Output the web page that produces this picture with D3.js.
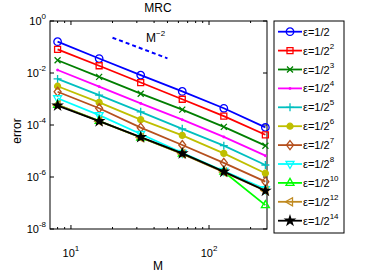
<!DOCTYPE html>
<html lang="en">
<head>
<meta charset="UTF-8">
<title>MRC</title>
<style>
body { margin: 0; background: #fff; }
svg text { font-family: "Liberation Sans", Arial, sans-serif; fill: #000; }
.axis line { stroke: #000; stroke-width: 1; }
</style>
</head>
<body>
<div id="chart"></div>
<script src="https://d3js.org/d3.v7.min.js"></script>
<script>
var width = 382, height = 273;
var box = { left: 50, right: 267, top: 21, bottom: 229 };

// data
var M = [8, 16, 32, 64, 128, 256];
var epsExp = ['', '2', '3', '4', '5', '6', '7', '8', '10', '12', '14'];
var err1  = [1.6e-1, 3.6e-2, 8.3e-3, 1.95e-3, 4.4e-4, 8.1e-5];
var err2  = [8.1e-2, 1.9e-2, 4.3e-3, 9.8e-4, 2.2e-4, 4.2e-5];
var err3  = [3.1e-2, 7.1e-3, 1.6e-3, 3.9e-4, 8.5e-5, 1.6e-5];
var err4  = [1.3e-2, 3.0e-3, 6.8e-4, 1.6e-4, 3.5e-5, 6.6e-6];
var err5  = [5.9e-3, 1.4e-3, 3.2e-4, 7.1e-5, 1.6e-5, 2.9e-6];
var err6  = [3.1e-3, 7.4e-4, 1.6e-4, 4.0e-5, 8.1e-6, 1.4e-6];
var err7  = [1.9e-3, 4.4e-4, 7.9e-5, 1.7e-5, 3.5e-6, 6.6e-7];
var err8  = [1.07e-3, 2.4e-4, 4.5e-5, 8.5e-6, 1.7e-6, 3.4e-7];
var err10 = [6.0e-4, 1.45e-4, 3.3e-5, 7.9e-6, 1.6e-6, 8.3e-8];
var err12 = [5.9e-4, 1.4e-4, 3.3e-5, 7.8e-6, 1.55e-6, 3.0e-7];
var err14 = [5.6e-4, 1.4e-4, 3.4e-5, 8.1e-6, 1.6e-6, 2.95e-7];
var refM = [20, 50];
var refErr = [0.228, 0.0367];
var yTickExp = [0, -2, -4, -6, -8];
var xTickExp = [1, 2];

var allErr = [err1, err2, err3, err4, err5, err6, err7, err8, err10, err12, err14];
var colors = ['#0000ff', '#ff0000', '#008000', '#ff00ff', '#00bfbf', '#bfbf00',
              '#b5501e', '#00ffff', '#00ff00', '#c08a20', '#000000'];
var markers = ['o', 's', 'x', '.', '+', 'dot', 'd', 'v', '^', '<', 'p'];

var svg = d3.select('#chart').append('svg').attr('width', width).attr('height', height);

var x = d3.scaleLog().domain([7.05, 263]).range([box.left, box.right]);
var y = d3.scaleLog().domain([1e-8, 1]).range([box.bottom, box.top]);

// marker shapes
function markerPath(t) {
    switch (t) {
        case 'o': return d3.symbol(d3.symbolCircle, 44)();
        case 's': return 'M-3,-3H3V3H-3Z';
        case 'x': return 'M-3,-3L3,3M-3,3L3,-3';
        case '+': return 'M-4,0H4M0,-4V4';
        case '.': return d3.symbol(d3.symbolCircle, 2)();
        case 'dot': return d3.symbol(d3.symbolCircle, 28)();
        case 'd': return 'M0,-4.5L3.5,0L0,4.5L-3.5,0Z';
        case 'v': return 'M-4,-2.5H4L0,4.5Z';
        case '^': return 'M-4,2.5H4L0,-4.5Z';
        case '<': return 'M2.5,-4V4L-4.5,0Z';
        case 'p': return d3.symbol(d3.symbolStar, 24)();
    }
}
function filled(t) { return t === 'dot' || t === 'p' || t === '.'; }

// axes box
svg.append('rect')
    .attr('x', box.left).attr('y', box.top)
    .attr('width', box.right - box.left).attr('height', box.bottom - box.top)
    .attr('fill', 'none').attr('stroke', '#000').attr('stroke-width', 1);

var ticks = svg.append('g').attr('class', 'axis');
// x ticks (major + minor)
var xMinor = [];
[1, 10, 100].forEach(function(d) {
    for (var k = 1; k < 10; k++) {
        var v = d * k;
        if (v >= x.domain()[0] && v <= x.domain()[1]) xMinor.push(v);
    }
});
xMinor.forEach(function(v) {
    var len = (v === 10 || v === 100) ? 4 : 2;
    ticks.append('line').attr('x1', x(v)).attr('x2', x(v))
        .attr('y1', box.bottom).attr('y2', box.bottom - len);
    ticks.append('line').attr('x1', x(v)).attr('x2', x(v))
        .attr('y1', box.top).attr('y2', box.top + len);
});
yTickExp.forEach(function(e) {
    var v = Math.pow(10, e);
    ticks.append('line').attr('x1', box.left).attr('x2', box.left + 4)
        .attr('y1', y(v)).attr('y2', y(v));
    ticks.append('line').attr('x1', box.right).attr('x2', box.right - 4)
        .attr('y1', y(v)).attr('y2', y(v));
});

// tick labels
yTickExp.forEach(function(e) {
    var t = svg.append('text')
        .attr('x', 46).attr('y', y(Math.pow(10, e)) + 4)
        .attr('text-anchor', 'end').attr('font-size', 11);
    t.append('tspan').text('10');
    t.append('tspan').attr('dy', -6).attr('font-size', 8).text(e);
});
xTickExp.forEach(function(e) {
    var t = svg.append('text')
        .attr('x', x(Math.pow(10, e))).attr('y', 257)
        .attr('text-anchor', 'middle').attr('font-size', 11);
    t.append('tspan').text('10');
    t.append('tspan').attr('dy', -6).attr('font-size', 8).text(e);
});

svg.append('text').attr('x', 158).attr('y', 270).attr('text-anchor', 'middle')
    .attr('font-size', 12).text('M');
svg.append('text').attr('transform', 'translate(21,131) rotate(-90)')
    .attr('text-anchor', 'middle').attr('font-size', 12).text('error');
svg.append('text').attr('x', 158).attr('y', 12).attr('text-anchor', 'middle')
    .attr('font-size', 12).text('MRC');

// reference slope
var line = d3.line().x(function(d) { return x(d[0]); }).y(function(d) { return y(d[1]); });
svg.append('path')
    .attr('d', line(d3.zip(refM, refErr)))
    .attr('fill', 'none').attr('stroke', '#0000ff').attr('stroke-width', 2)
    .attr('stroke-dasharray', '4,3');
var ref = svg.append('text').attr('x', 146).attr('y', 42).attr('font-size', 12);
ref.append('tspan').text('M');
ref.append('tspan').attr('dy', -6).attr('font-size', 8).text('\u22122');

// series
allErr.forEach(function(errs, i) {
    var g = svg.append('g');
    g.append('path')
        .attr('d', line(d3.zip(M, errs)))
        .attr('fill', 'none').attr('stroke', colors[i]).attr('stroke-width', 1.8);
    g.selectAll('path.mk')
        .data(d3.zip(M, errs))
        .enter().append('path')
        .attr('class', 'mk')
        .attr('transform', function(d) { return 'translate(' + x(d[0]) + ',' + y(d[1]) + ')'; })
        .attr('d', markerPath(markers[i]))
        .attr('fill', filled(markers[i]) ? colors[i] : 'none')
        .attr('stroke', colors[i]).attr('stroke-width', 1.3);
});

// legend
var leg = svg.append('g');
leg.append('rect').attr('x', 274).attr('y', 21).attr('width', 70).attr('height', 212)
    .attr('fill', '#fff').attr('stroke', '#000').attr('stroke-width', 1);
epsExp.forEach(function(e, i) {
    var ry = 31.7 + i * 18.9;
    leg.append('line').attr('x1', 278).attr('x2', 302).attr('y1', ry).attr('y2', ry)
        .attr('stroke', colors[i]).attr('stroke-width', 1.8);
    leg.append('path').attr('transform', 'translate(290,' + ry + ')')
        .attr('d', markerPath(markers[i]))
        .attr('fill', filled(markers[i]) ? colors[i] : 'none')
        .attr('stroke', colors[i]).attr('stroke-width', 1.3);
    var t = leg.append('text').attr('x', 303).attr('y', ry + 4).attr('font-size', 11);
    t.append('tspan').text('\u03b5=1/2');
    if (e) t.append('tspan').attr('dy', -6).attr('font-size', 8).text(e);
});
</script>
</body>
</html>
